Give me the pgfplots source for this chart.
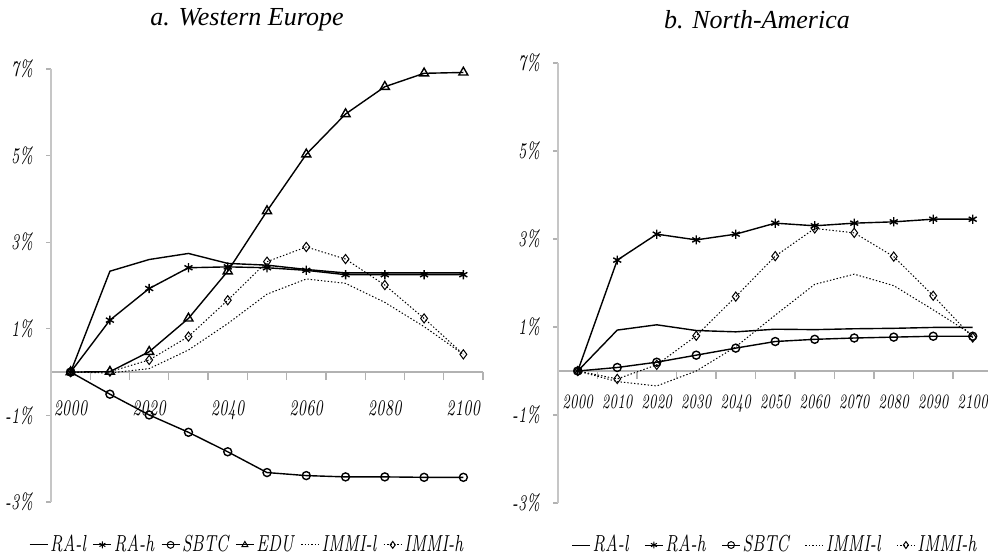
\documentclass[border=0pt]{standalone}
\usepackage{fontspec}
\usepackage{graphicx}
\usepackage{pgfplots}
\pgfplotsset{compat=1.18}
\newfontfamily\titlefont{Liberation Serif}

% tall italic labels
\newcommand\tl[1]{\scalebox{1}[1.6]{#1}}
\newcommand\legtxt[1]{\scalebox{1}[1.45]{#1}}

\pgfplotsset{
  panel/.style={
    scale only axis,
    axis x line=middle, axis y line=left,
    x axis line style={-, gray!60, line width=0.6pt},
    y axis line style={-, gray!45, line width=0.6pt},
    xmin=1995, ymin=-3, ymax=7,
    tick align=outside,
    major tick length=2.5pt, minor tick length=4pt,
    every major x tick/.append style={draw=none},
    every minor tick/.append style={gray!60, line width=0.6pt},
    every major y tick/.append style={gray!60, line width=0.6pt},
    minor xtick={2005,2015,...,2105},
    ytick={-3,-1,1,3,5,7},
    yticklabels={\tl{-3\%},\tl{-1\%},\tl{1\%},\tl{3\%},\tl{5\%},\tl{7\%}},
    tick label style={font=\fontsize{7}{8}\selectfont\itshape},
    xticklabel style={anchor=north, yshift=-8pt},
    yticklabel style={anchor=east, xshift=-3pt},
    clip=false,
    every axis plot/.append style={line width=0.7pt, black},
    legend style={draw=none, fill=none, legend columns=-1,
      font=\fontsize{8}{9}\selectfont\itshape,
      nodes={inner xsep=1pt},
      inner sep=0pt},
    legend image code/.code={\draw[mark repeat=2,mark phase=2,#1]
      plot coordinates {(0pt,0pt)(4.5pt,0pt)(9pt,0pt)};},
    legend image post style={mark size=1.7pt, line width=0.5pt},
  },
  ral/.style={solid, mark=none},
  rah/.style={solid, mark=asterisk, mark size=2.3pt},
  sbtc/.style={solid, mark=o, mark size=2pt},
  edu/.style={solid, mark=triangle, mark size=2.6pt},
  imml/.style={densely dotted, line width=0.5pt, mark=none},
  immh/.style={densely dotted, line width=0.5pt, mark=diamond, mark size=2.3pt, mark options={solid}},
}

\begin{document}
\begin{tikzpicture}
% ---------------- Western Europe ----------------
\begin{axis}[panel,
  width=216pt, height=216.5pt,
  at={(25.5pt,-251pt)}, anchor=south west,
  xmax=2105,
  xtick={2000,2020,...,2100},
  xticklabels={\tl{2000},\tl{2020},\tl{2040},\tl{2060},\tl{2080},\tl{2100}},
  legend style={at={(0.454,-0.099)}, anchor=center,
    /tikz/every even column/.append style={column sep=2.5pt}},
]
\addplot[ral] coordinates {(2000,0) (2010,2.33) (2020,2.60) (2030,2.74) (2040,2.51) (2050,2.47) (2060,2.37) (2070,2.29) (2080,2.29) (2090,2.29) (2100,2.29)};
\addlegendentry{\legtxt{RA-l}}
\addplot[rah] coordinates {(2000,0) (2010,1.20) (2020,1.93) (2030,2.41) (2040,2.43) (2050,2.41) (2060,2.35) (2070,2.25) (2080,2.25) (2090,2.25) (2100,2.25)};
\addlegendentry{\legtxt{RA-h}}
\addplot[sbtc] coordinates {(2000,0) (2010,-0.51) (2020,-0.99) (2030,-1.39) (2040,-1.84) (2050,-2.32) (2060,-2.39) (2070,-2.42) (2080,-2.42) (2090,-2.43) (2100,-2.43)};
\addlegendentry{\legtxt{SBTC}}
\addplot[edu] coordinates {(2000,0) (2010,0.01) (2020,0.47) (2030,1.24) (2040,2.33) (2050,3.72) (2060,5.03) (2070,5.96) (2080,6.59) (2090,6.90) (2100,6.92)};
\addlegendentry{\legtxt{EDU}}
\addplot[imml] coordinates {(2000,0) (2010,-0.02) (2020,0.08) (2030,0.51) (2040,1.12) (2050,1.80) (2060,2.15) (2070,2.05) (2080,1.61) (2090,1.05) (2100,0.41)};
\addlegendentry{\legtxt{IMMI-l}}
\addplot[immh] coordinates {(2000,0) (2010,0.01) (2020,0.28) (2030,0.82) (2040,1.66) (2050,2.55) (2060,2.89) (2070,2.61) (2080,2.01) (2090,1.24) (2100,0.41)};
\addlegendentry{\legtxt{IMMI-h}}
\end{axis}

% ---------------- North-America ----------------
\begin{axis}[panel,
  width=215.25pt, height=220pt,
  at={(279pt,-251.5pt)}, anchor=south west,
  xmax=2104,
  xtick={2000,2010,...,2100},
  xticklabels={\tl{2000},\tl{2010},\tl{2020},\tl{2030},\tl{2040},\tl{2050},\tl{2060},\tl{2070},\tl{2080},\tl{2090},\tl{2100}},
  xticklabel style={yshift=2pt, font=\fontsize{6.4}{8}\selectfont\itshape},
  legend style={at={(0.504,-0.0955)}, anchor=center,
    /tikz/every even column/.append style={column sep=7pt}},
]
\addplot[ral] coordinates {(2000,0) (2010,0.93) (2020,1.05) (2030,0.92) (2040,0.89) (2050,0.95) (2060,0.94) (2070,0.96) (2080,0.97) (2090,0.99) (2100,0.99)};
\addlegendentry{\legtxt{RA-l}}
\addplot[rah] coordinates {(2000,0) (2010,2.52) (2020,3.11) (2030,2.98) (2040,3.11) (2050,3.36) (2060,3.30) (2070,3.36) (2080,3.39) (2090,3.45) (2100,3.45)};
\addlegendentry{\legtxt{RA-h}}
\addplot[sbtc] coordinates {(2000,0) (2010,0.08) (2020,0.20) (2030,0.36) (2040,0.52) (2050,0.67) (2060,0.72) (2070,0.75) (2080,0.77) (2090,0.79) (2100,0.79)};
\addlegendentry{\legtxt{SBTC}}
\addplot[imml] coordinates {(2000,0) (2010,-0.24) (2020,-0.34) (2030,0.00) (2040,0.55) (2050,1.27) (2060,1.97) (2070,2.20) (2080,1.94) (2090,1.39) (2100,0.82)};
\addlegendentry{\legtxt{IMMI-l}}
\addplot[immh] coordinates {(2000,0) (2010,-0.18) (2020,0.14) (2030,0.80) (2040,1.69) (2050,2.61) (2060,3.24) (2070,3.14) (2080,2.60) (2090,1.71) (2100,0.76)};
\addlegendentry{\legtxt{IMMI-h}}
\end{axis}

% panel titles
\node[font=\titlefont\itshape\fontsize{13}{15}\selectfont] at (123.5pt,-10pt) {a. Western Europe};
\node[font=\titlefont\itshape\fontsize{13}{15}\selectfont] at (378.5pt,-10pt) {b. North-America};

\pgfresetboundingbox
\path[use as bounding box] (0,0) rectangle (494pt,-277.5pt);
\end{tikzpicture}
\end{document}
